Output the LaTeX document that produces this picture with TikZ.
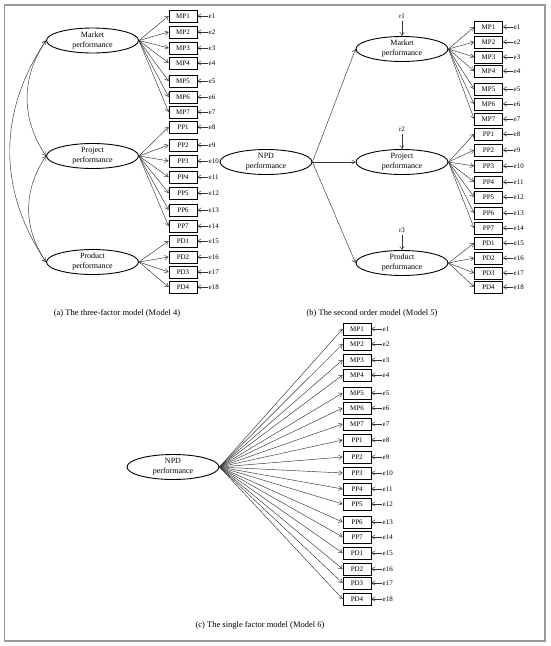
\documentclass[tikz,border=0pt]{standalone}
\usepackage{fontspec}
\setmainfont{Liberation Serif}
\usetikzlibrary{shapes.geometric,arrows.meta}

\begin{document}
\begin{tikzpicture}[x=1pt,y=-1pt,>={Straight Barb[length=3.5pt,width=4.5pt]},
  item/.style={draw,line width=0.8pt,minimum width=28pt,minimum height=12pt,inner sep=0pt,font=\fontsize{7}{8}\selectfont},
  factor/.style={draw,ellipse,line width=0.9pt,minimum width=92pt,minimum height=25pt,inner sep=0pt,align=center,font=\fontsize{8}{10}\selectfont},
  err/.style={inner sep=0.5pt,font=\fontsize{7}{8}\selectfont},
  link/.style={->,line width=0.45pt,black!80},
  caption/.style={font=\fontsize{8.5}{10}\selectfont}]
\useasboundingbox (0,0) rectangle (550,646);
\draw[black!40,line width=1.5pt] (4.5,5) rectangle (545,641);

% (a) three factors
\node[factor] (a-mkt) at (92.5,40.5) {Market\\performance};
\node[factor] (a-prj) at (92.5,156) {Project\\performance};
\node[factor] (a-prd) at (92.5,262) {Product\\performance};
\foreach \n/\y/\k in {MP1/16/1,MP2/32/2,MP3/48/3,MP4/63/4,MP5/81/5,MP6/97/6,MP7/112/7,
    PP1/127/8,PP2/145/9,PP3/161/10,PP4/177/11,PP5/193/12,PP6/210/13,PP7/226/14,
    PD1/241/15,PD2/257/16,PD3/272/17,PD4/287/18} {
  \node[item] (a-\n) at (183,\y) {\n};
  \node[err,anchor=west] (a-e\k) at (208,\y) {e\k};
  \draw[link] (a-e\k) -- (a-\n);
}
\foreach \i in {1,...,7} \draw[link] (a-mkt.east) -- (a-MP\i.west);
\foreach \i in {1,...,7} \draw[link] (a-prj.east) -- (a-PP\i.west);
\foreach \i in {1,...,4} \draw[link] (a-prd.east) -- (a-PD\i.west);
\draw[link,<->] (a-mkt.west) to[bend right=34] (a-prj.west);
\draw[link,<->] (a-prj.west) to[bend right=34] (a-prd.west);
\draw[link,<->] (a-mkt.west) to[bend right=34] (a-prd.west);
\node[caption] (cap-a) at (117,313) {(a) The three-factor model (Model 4)};

% (b) second order
\node[factor] (b-npd) at (266,162) {NPD\\performance};
\node[factor] (b-mkt) at (402,49) {Market\\performance};
\node[factor] (b-prj) at (402,162) {Project\\performance};
\node[factor] (b-prd) at (402,263) {Product\\performance};
\node[err,inner sep=2pt] (r1) at (402,16) {r1};
\node[err,inner sep=2pt] (r2) at (402,129) {r2};
\node[err,inner sep=2pt] (r3) at (402,230) {r3};
\draw[link] (r1) -- (b-mkt);
\draw[link] (r2) -- (b-prj);
\draw[link] (r3) -- (b-prd);
\draw[link] (b-npd.east) -- (b-mkt.west);
\draw[link] (b-npd.east) -- (b-prj.west);
\draw[link] (b-npd.east) -- (b-prd.west);
\foreach \n/\y/\k in {MP1/27/1,MP2/42/2,MP3/57/3,MP4/71/4,MP5/89/5,MP6/104/6,MP7/119/7,
    PP1/134/8,PP2/150/9,PP3/166/10,PP4/182/11,PP5/197/12,PP6/213/13,PP7/228/14,
    PD1/243/15,PD2/258/16,PD3/273/17,PD4/287/18} {
  \node[item] (b-\n) at (488.5,\y) {\n};
  \node[err,anchor=west] (b-e\k) at (513,\y) {e\k};
  \draw[link] (b-e\k) -- (b-\n);
}
\foreach \i in {1,...,7} \draw[link] (b-mkt.east) -- (b-MP\i.west);
\foreach \i in {1,...,7} \draw[link] (b-prj.east) -- (b-PP\i.west);
\foreach \i in {1,...,4} \draw[link] (b-prd.east) -- (b-PD\i.west);
\node[caption] (cap-b) at (372,313) {(b) The second order model (Model 5)};

% (c) single factor
\node[factor] (c-npd) at (173,467) {NPD\\performance};
\foreach \n/\y/\k in {MP1/329/1,MP2/344/2,MP3/360/3,MP4/375/4,MP5/393/5,MP6/408/6,MP7/424/7,
    PP1/440/8,PP2/457/9,PP3/473/10,PP4/489/11,PP5/504/12,PP6/522/13,PP7/537/14,
    PD1/553/15,PD2/569/16,PD3/583/17,PD4/599/18} {
  \node[item] (c-\n) at (357,\y) {\n};
  \node[err,anchor=west] (c-e\k) at (382,\y) {e\k};
  \draw[link] (c-e\k) -- (c-\n);
  \draw[link] (c-npd.east) -- (c-\n.west);
}
\node[caption] (cap-c) at (260,625) {(c) The single factor model (Model 6)};
\end{tikzpicture}
\end{document}
